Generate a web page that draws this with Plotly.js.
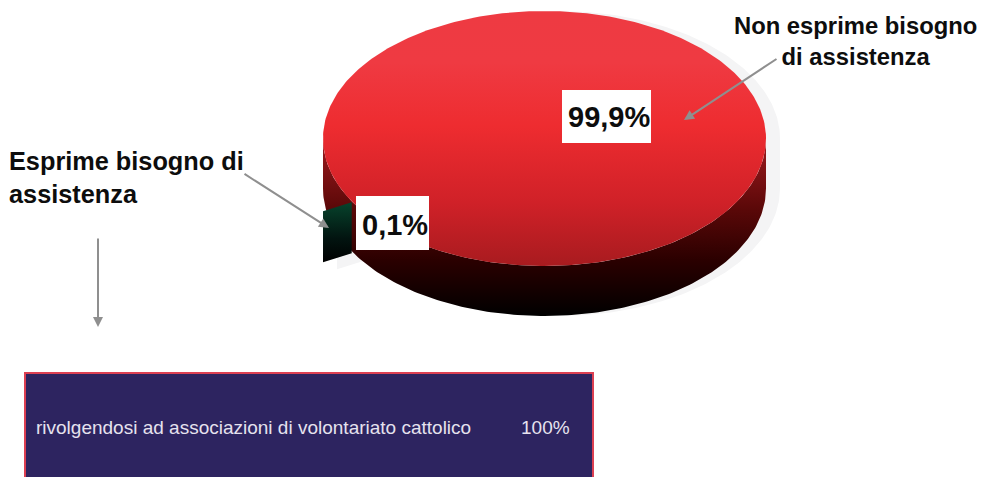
<!DOCTYPE html>
<html>
<head>
<meta charset="utf-8">
<script src="https://cdn.plot.ly/plotly-3.0.1.min.js"></script>
<style>html,body{margin:0;padding:0;background:#fff}#chart{width:996px;height:477px}</style>
</head>
<body>
<div id="chart"></div>
<script>
// Answers and their shares (percent)
const sliceNames = ['Non esprime bisogno<br>di assistenza', 'Esprime bisogno di<br>assistenza'];
const sliceValues = [99.9, 0.1];
// Breakdown of the people who express a need
const channelNames = ['rivolgendosi ad associazioni di volontariato cattolico'];
const channelValues = [100];

// Pie geometry on a pixel-sized canvas
const pie = {cx: 544.5, cy: 138.5, rx: 221.5, ry: 127.5, depth: 50};
const smallSlice = {start: 150.5, minSpan: 29, drop: 1, rise: 9};
const shadow = {dx: 14, dy: 0, sliverDx: 14, sliverDy: 7, color: '#f4f4f5'};
const FONT = '"Liberation Sans", Arial, sans-serif';
const pct = (v, d) => v.toFixed(d).replace('.', ',') + '%';
const rad = a => a * Math.PI / 180;
const px = a => pie.cx + pie.rx * Math.cos(rad(a));
const py = a => pie.cy + pie.ry * Math.sin(rad(a));
const sweep = (a, b) => { const o = []; for (let t = a; t <= b; t += 1) o.push(t); return o; };

const total = sliceValues.reduce((s, v) => s + v, 0);
const mainSpan = 360 * sliceValues[0] / total;
// The tiny slice keeps a legible minimum width on the rim
const smallSpan = Math.max(360 * sliceValues[1] / total, smallSlice.minSpan);

// Soft drop shadow behind the whole pie
const backAngles = sweep(180, 360);
const frontAngles = sweep(0, 180);
const pieShadow = {
  x: backAngles.map(t => px(t) + shadow.dx).concat(frontAngles.map(t => px(t) + shadow.dx)),
  y: backAngles.map(t => py(t) + shadow.dy).concat(frontAngles.map(t => py(t) + pie.depth + shadow.dy)),
  fill: 'toself', mode: 'lines', line: {width: 0}, fillcolor: shadow.color, hoverinfo: 'skip'
};

// Rim of the pie: the front half of the ellipse, extruded downward
const rimFace = {
  x: frontAngles.map(px).concat(frontAngles.slice().reverse().map(px)),
  y: frontAngles.map(t => py(t) + pie.depth).concat(frontAngles.slice().reverse().map(py)),
  fill: 'toself', mode: 'lines', line: {width: 0}, hoverinfo: 'skip',
  fillgradient: {type: 'vertical', colorscale: [
    [0, '#000000'], [0.31, '#2a0000'], [0.6, '#5a0808'], [0.88, '#8b1518'], [1, '#9a1a1c']]}
};

// Top face of the large slice
const topAngles = sweep(0, Math.floor(mainSpan));
const topFace = {
  x: topAngles.map(px), y: topAngles.map(py),
  fill: 'toself', mode: 'lines', line: {width: 0}, hoverinfo: 'skip',
  fillgradient: {type: 'vertical', colorscale: [
    [0, '#a81b1f'], [0.25, '#d02128'], [0.55, '#ee2c30'], [0.8, '#ef3a42'], [1, '#ee3a42']]}
};

// Side face of the small slice, with its own shadow
const a0 = smallSlice.start, a1 = a0 + smallSpan;
const y0 = py(a0) + smallSlice.drop;
const y1 = y0 + smallSlice.rise;
const sliverX = [px(a0), px(a1), px(a1), px(a0)];
const sliverY = [y0, y1, y1 + pie.depth + 1, y0 + pie.depth + 1];
const sliverShadow = {
  x: sliverX.map(v => v + shadow.sliverDx), y: sliverY.map(v => v + shadow.sliverDy),
  fill: 'toself', mode: 'lines', line: {width: 0}, fillcolor: shadow.color, hoverinfo: 'skip'
};
const sliverFace = {
  x: sliverX, y: sliverY,
  fill: 'toself', mode: 'lines', line: {width: 0}, hoverinfo: 'skip',
  fillgradient: {type: 'vertical', colorscale: [
    [0, '#000000'], [0.4, '#021410'], [1, '#07432c']]}
};

const rightTitleFont = {family: FONT, size: 23.8, color: '#0d0d0d'};
const leftTitleFont = {family: FONT, size: 25.3, color: '#0d0d0d'};
const labelFont = {family: FONT, size: 29, color: '#0d0d0d'};
const panelFont = {family: FONT, size: 19, color: '#e6e2ee'};
const ARROW = '#8f8f8f';

const arrow = (xa, ya, xb, yb) => ({
  x: xb, y: yb, ax: xa, ay: ya, xref: 'x', yref: 'y', axref: 'x', ayref: 'y',
  text: '', showarrow: true, arrowhead: 2, arrowsize: 1, arrowwidth: 2, arrowcolor: ARROW
});
const whiteBox = (xa, xb, ya, yb) => ({
  type: 'rect', xref: 'x', yref: 'y', x0: xa, x1: xb, y0: ya, y1: yb,
  fillcolor: '#ffffff', line: {width: 0}
});
const boxText = (text, x, y) => ({
  x, y, xref: 'x', yref: 'y', text: '<b>' + text + '</b>', showarrow: false,
  font: labelFont, xanchor: 'center', yanchor: 'middle'
});

const layout = {
  width: 996, height: 477, margin: {l: 0, r: 0, t: 0, b: 0},
  paper_bgcolor: '#ffffff', plot_bgcolor: '#ffffff', showlegend: false,
  xaxis: {range: [0, 996], visible: false, fixedrange: true},
  yaxis: {range: [477, 0], visible: false, fixedrange: true},
  shapes: [
    {type: 'rect', xref: 'x', yref: 'y', x0: 25, x1: 593, y0: 373, y1: 490,
     fillcolor: '#2d2460', line: {color: '#dc4052', width: 2}},
    whiteBox(562, 651, 90, 143),
    whiteBox(356, 429, 196, 250)
  ],
  annotations: [
    arrow(778, 58, 684, 120),
    arrow(243, 173, 329, 228),
    arrow(98, 237, 98, 327),
    boxText(pct(sliceValues[0], 1), 609, 117),
    boxText(pct(sliceValues[1], 1), 395, 225),
    {x: 855.5, y: 41, xref: 'x', yref: 'y', text: '<b>' + sliceNames[0] + '</b>', showarrow: false,
     font: rightTitleFont, align: 'center', xanchor: 'center', yanchor: 'middle'},
    {x: 7, y: 177, xref: 'x', yref: 'y', text: '<b>' + sliceNames[1] + '</b>', showarrow: false,
     font: leftTitleFont, align: 'left', xanchor: 'left', yanchor: 'middle'},
    {x: 34, y: 427, xref: 'x', yref: 'y', text: channelNames[0], showarrow: false,
     font: panelFont, xanchor: 'left', yanchor: 'middle'},
    {x: 572, y: 427, xref: 'x', yref: 'y', text: channelValues[0] + '%', showarrow: false,
     font: panelFont, xanchor: 'right', yanchor: 'middle'}
  ]
};

Plotly.newPlot('chart', [pieShadow, sliverShadow, rimFace, topFace, sliverFace], layout, {displayModeBar: false, staticPlot: true});
</script>
</body>
</html>
